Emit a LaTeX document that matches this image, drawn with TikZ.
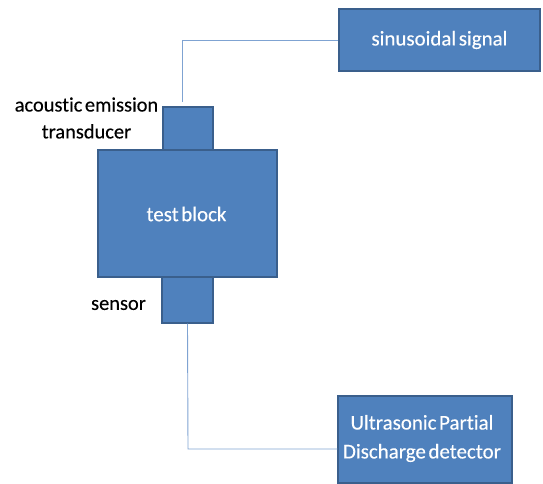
\documentclass[tikz,border=0pt]{standalone}
\usepackage{fontspec}
\setmainfont{Carlito}[WordSpace=0.55,FakeBold=0.3,Ligatures=NoCommon]
\definecolor{boxfill}{HTML}{4F81BD}
\definecolor{boxedge}{HTML}{3A5F8C}
\definecolor{wire}{HTML}{7FA3D2}
\begin{document}
\begin{tikzpicture}[x=1bp,y=-1bp,
  blockbox/.style={draw=boxedge,line width=1.3bp,fill=boxfill,inner sep=0pt,
    text=white,align=center,font=\fontsize{21}{28}\selectfont},
  caption/.style={inner sep=0pt,align=center,text=black,
    font=\fontsize{20.5}{27}\selectfont},
  wireline/.style={draw=wire,line width=0.9bp}]
\useasboundingbox (0,0) rectangle (543,484);
% boxes, placed by their centres
\node[blockbox,minimum width=201bp,minimum height=62bp] (sig) at (439.5,40) {sinusoidal signal};
\node[blockbox,minimum width=50bp,minimum height=43bp] (trans) at (188,128.5) {};
\node[blockbox,minimum width=179bp,minimum height=127bp] (block) at (187.5,213.5) {};
\node[blockbox,minimum width=51bp,minimum height=46bp] (sensor) at (187.5,300) {};
\node[blockbox,minimum width=174bp,minimum height=87bp] (det) at (425,439.5) {};
% box texts
\node[text=white,inner sep=0pt,font=\fontsize{21}{28}\selectfont] (blocktext) at (186.5,214) {test block};
\node[text=white,inner sep=0pt,align=center,font=\fontsize{21}{29}\selectfont] (dettext) at (422,438.5) {Ultrasonic Partial\\Discharge detector};
% captions
\node[caption] (transcap) at (86.5,118) {acoustic emission\\transducer};
\node[caption] (sensorcap) at (118.5,305) {sensor};
% wiring
\coordinate (topbend) at (182,40);
\coordinate (topend) at (182,102);
\coordinate (botbend) at (188,449);
\draw[wireline] (sig.west) -- (topbend) -- (topend);
\draw[wireline] (sensor.south) -- (botbend) -- (botbend -| det.west);
\end{tikzpicture}
\end{document}
